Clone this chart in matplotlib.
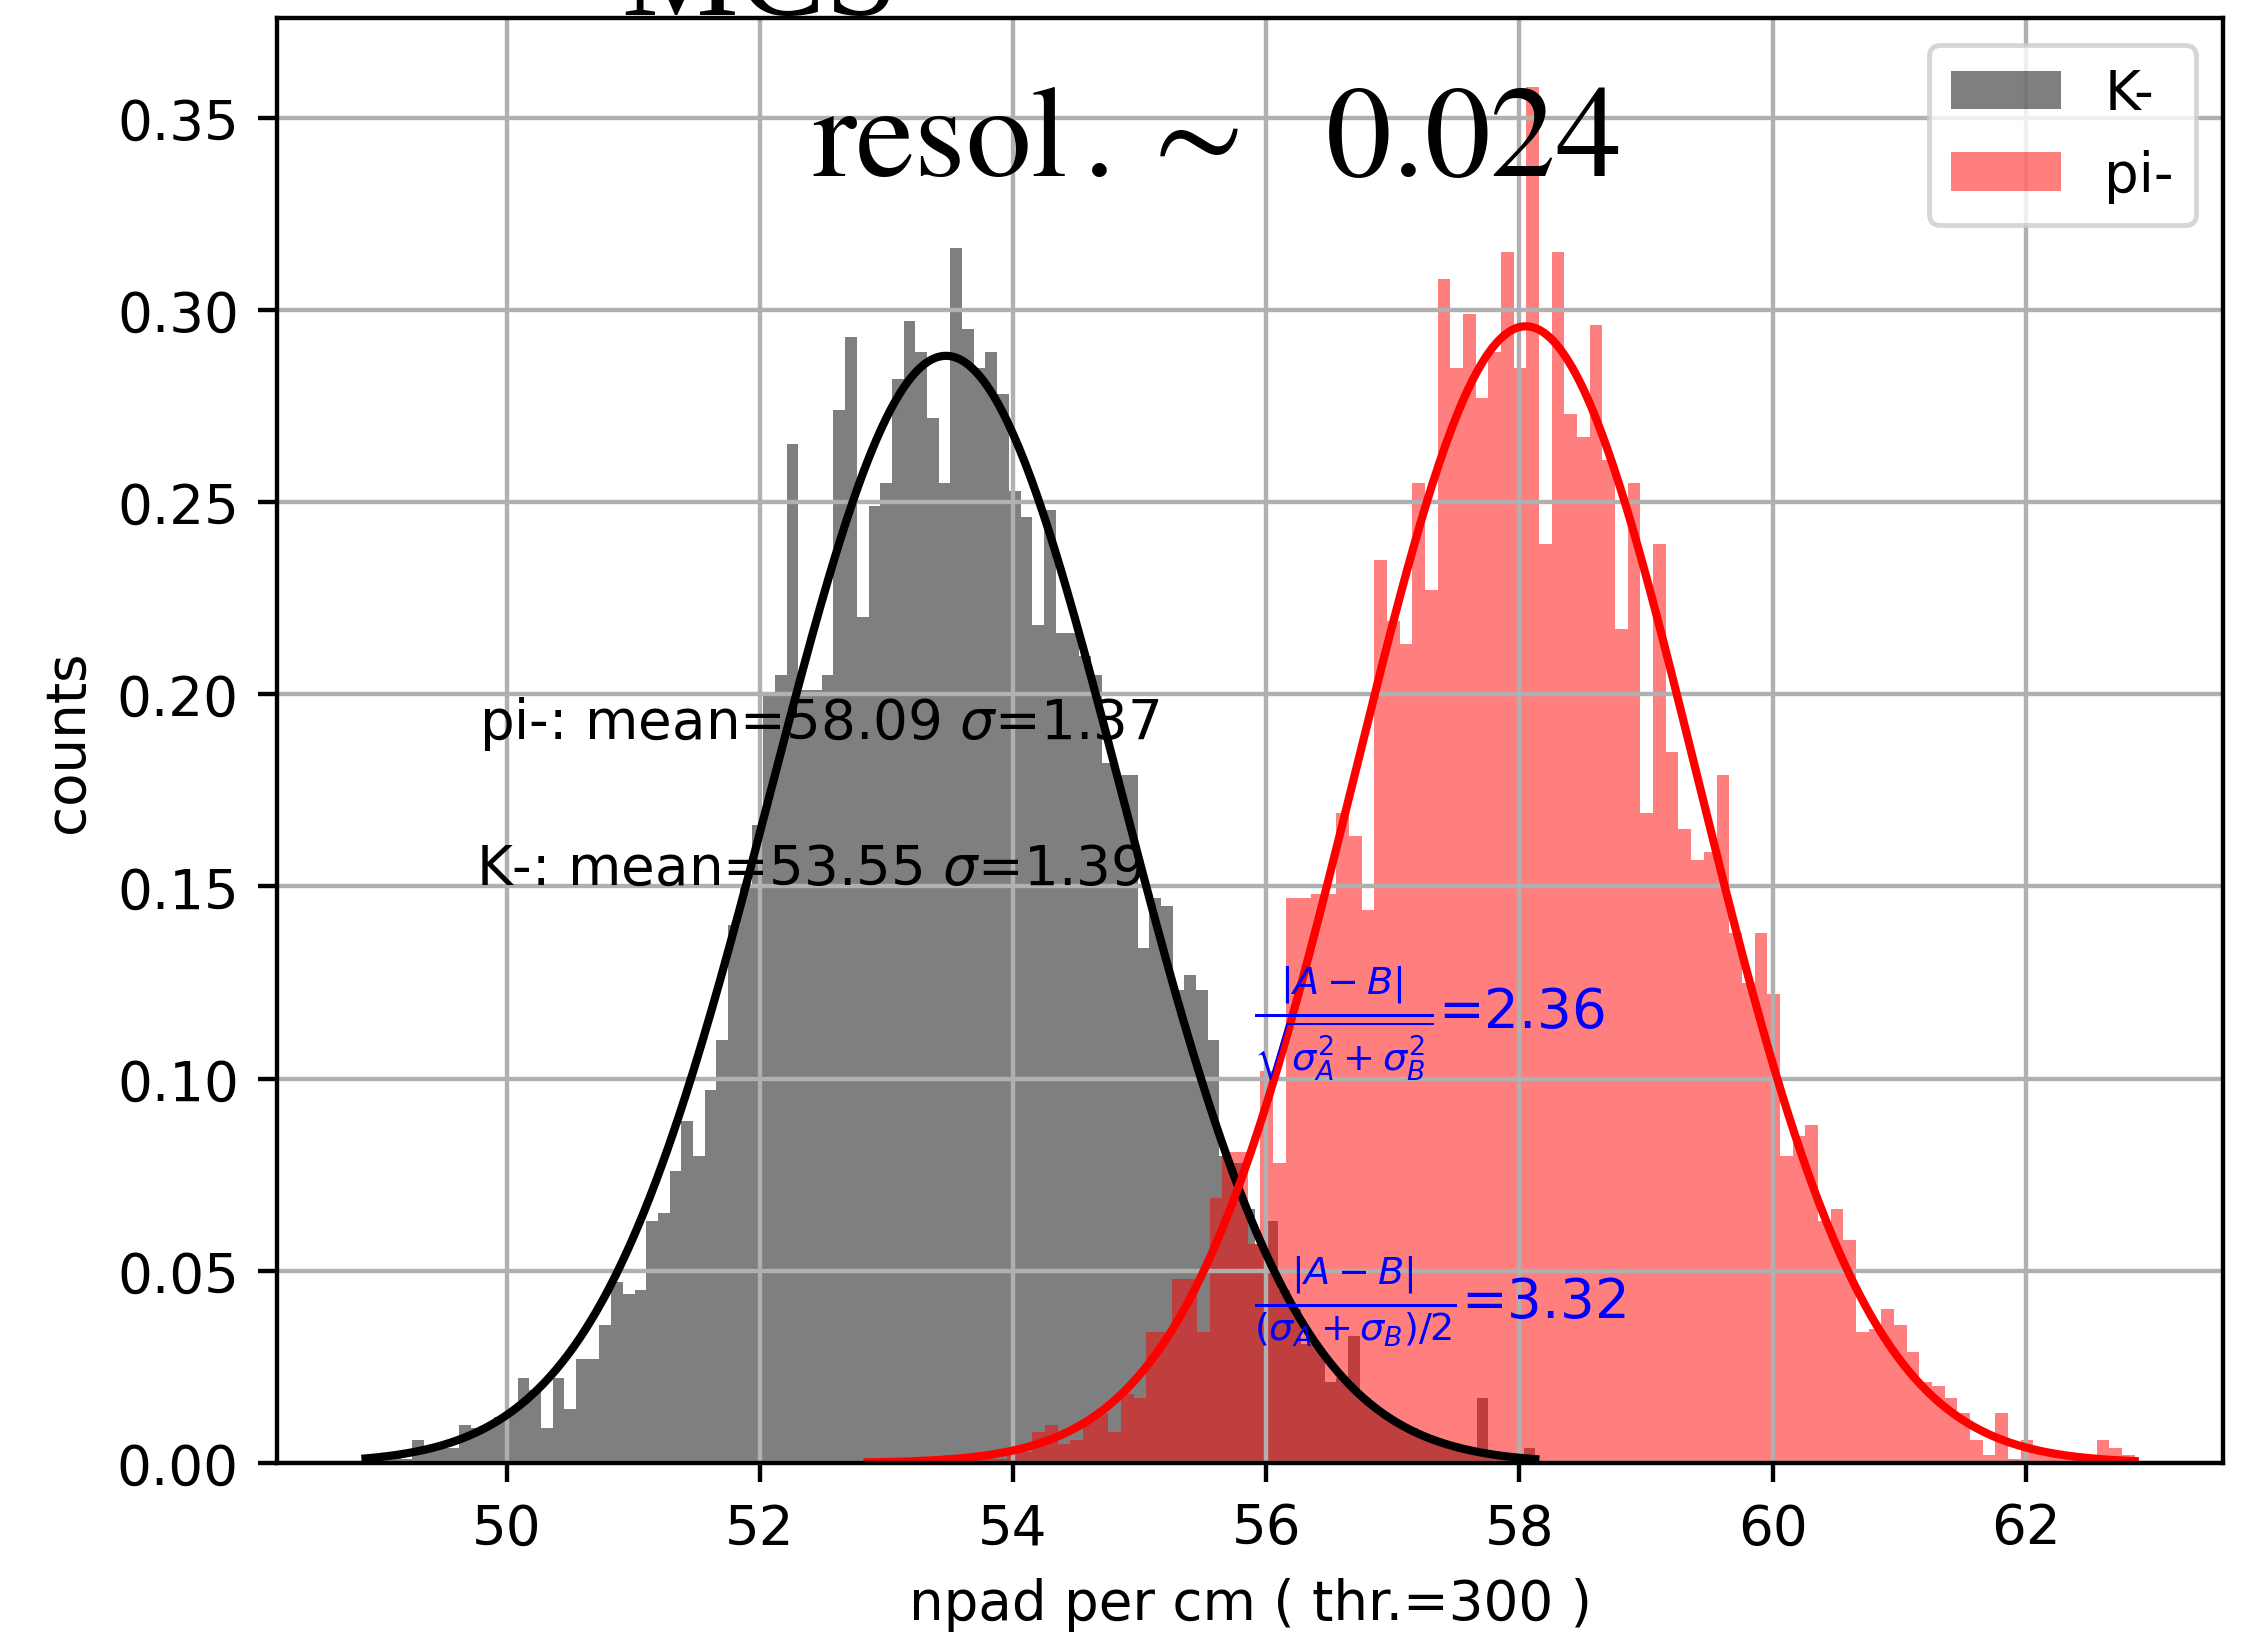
import matplotlib
matplotlib.use("Agg")
import matplotlib.pyplot as plt
import numpy as np

# bin ranges of the two histograms (100 bins each, density normalised)
K_RANGE = (48.885, 58.125)
PI_RANGE = (52.85, 62.86)

# bin heights
k_heights = [
    0.002, 0.001, 0.002, 0.001, 0.006, 0.004, 0.004, 0.004, 0.010, 0.009,
    0.010, 0.012, 0.014, 0.022, 0.019, 0.009, 0.022, 0.014, 0.027, 0.027,
    0.036, 0.047, 0.044, 0.045, 0.063, 0.065, 0.076, 0.089, 0.080, 0.097,
    0.110, 0.140, 0.150, 0.166, 0.200, 0.205, 0.265, 0.201, 0.201, 0.205,
    0.274, 0.293, 0.220, 0.249, 0.255, 0.282, 0.297, 0.289, 0.272, 0.255,
    0.316, 0.295, 0.285, 0.289, 0.278, 0.253, 0.246, 0.218, 0.248, 0.216,
    0.216, 0.210, 0.205, 0.182, 0.179, 0.179, 0.134, 0.147, 0.145, 0.123,
    0.127, 0.123, 0.110, 0.080, 0.078, 0.066, 0.057, 0.063, 0.045, 0.040,
    0.031, 0.030, 0.021, 0.022, 0.033, 0.017, 0.014, 0.012, 0.010, 0.009,
    0.007, 0.006, 0.005, 0.004, 0.003, 0.017, 0.002, 0.002, 0.001, 0.004,
]
pi_heights = [
    0.001, 0.000, 0.000, 0.001, 0.000, 0.001, 0.002, 0.001, 0.002, 0.003,
    0.001, 0.004, 0.003, 0.008, 0.010, 0.005, 0.006, 0.011, 0.013, 0.008,
    0.018, 0.017, 0.034, 0.034, 0.048, 0.048, 0.034, 0.069, 0.081, 0.081,
    0.057, 0.102, 0.078, 0.147, 0.147, 0.148, 0.148, 0.169, 0.163, 0.144,
    0.235, 0.219, 0.213, 0.255, 0.227, 0.308, 0.285, 0.299, 0.277, 0.289,
    0.315, 0.285, 0.358, 0.239, 0.315, 0.273, 0.267, 0.296, 0.261, 0.217,
    0.255, 0.169, 0.239, 0.185, 0.165, 0.157, 0.159, 0.179, 0.138, 0.125,
    0.138, 0.122, 0.080, 0.085, 0.088, 0.063, 0.066, 0.058, 0.034, 0.035,
    0.040, 0.036, 0.029, 0.021, 0.020, 0.017, 0.013, 0.006, 0.002, 0.013,
    0.001, 0.006, 0.004, 0.002, 0.002, 0.002, 0.002, 0.006, 0.004, 0.002,
]

# gaussian fit parameters (curves) and stats shown in the text
K_FIT = (53.47, 1.385)
PI_FIT = (58.05, 1.349)
K_STATS = (53.55, 1.39)
PI_STATS = (58.09, 1.37)
SEP_RMS = 2.36
SEP_AVG = 3.32
RESOL = 0.024

# the source image was a slightly enlarged default-style figure
S = 1.125
plt.rcParams.update({
    "font.size": 10 * S,
    "axes.linewidth": 0.8 * S,
    "grid.linewidth": 0.8 * S,
    "xtick.major.size": 3.5 * S,
    "ytick.major.size": 3.5 * S,
    "xtick.major.width": 0.8 * S,
    "ytick.major.width": 0.8 * S,
    "xtick.major.pad": 3.5 * S,
    "ytick.major.pad": 3.5 * S,
    "axes.labelpad": 4.0 * S,
})


def gauss(x, mu, sigma):
    return np.exp(-0.5 * ((x - mu) / sigma) ** 2) / (sigma * np.sqrt(2 * np.pi))


DPI = 350
fig = plt.figure(figsize=(2249 / DPI, 1634 / DPI), dpi=DPI)
ax = fig.add_axes([0.1232, 0.104, 0.8653, 0.8843])

k_edges = np.linspace(K_RANGE[0], K_RANGE[1], len(k_heights) + 1)
pi_edges = np.linspace(PI_RANGE[0], PI_RANGE[1], len(pi_heights) + 1)
k_centers = 0.5 * (k_edges[:-1] + k_edges[1:])
pi_centers = 0.5 * (pi_edges[:-1] + pi_edges[1:])

ax.hist(k_centers, bins=k_edges, weights=k_heights, color="k", alpha=0.5, label="K-")
ax.hist(pi_centers, bins=pi_edges, weights=pi_heights, color="r", alpha=0.5, label="pi-")

xk = np.linspace(k_edges[0], k_edges[-1], 400)
xp = np.linspace(pi_edges[0], pi_edges[-1], 400)
ax.plot(xk, gauss(xk, *K_FIT), color="k", lw=1.5 * S)
ax.plot(xp, gauss(xp, *PI_FIT), color="r", lw=1.5 * S)

ax.grid(True)
ax.legend(loc="upper right")
ax.set_xlabel("npad per cm ( thr.=300 )")
ax.set_ylabel("counts")

ax.text(49.78, 0.1885, r"pi-: mean=%.2f $\sigma$=%.2f" % PI_STATS)
ax.text(49.76, 0.1508, r"K-: mean=%.2f $\sigma$=%.2f" % K_STATS)
ax.text(55.9, 0.113, r"$\frac{|A-B|}{\sqrt{\sigma_A^2+\sigma_B^2}}$=%.2f" % SEP_RMS,
        color="blue")
ax.text(55.9, 0.0379, r"$\frac{|A-B|}{(\sigma_A+\sigma_B)/2}$=%.2f" % SEP_AVG,
        color="blue")
ax.text(52.41, 0.335, r"$\mathrm{resol\,.}\sim\ \ %.3f$" % RESOL,
        fontsize=27, math_fontfamily="stix")

# title of the original figure, cut off by the top edge of the image
fig.text(0.338, 1 - 15 / 1634, "MCS", ha="center", va="baseline",
         fontsize=27, family="Liberation Serif")

fig.savefig("out.png", dpi=DPI)
